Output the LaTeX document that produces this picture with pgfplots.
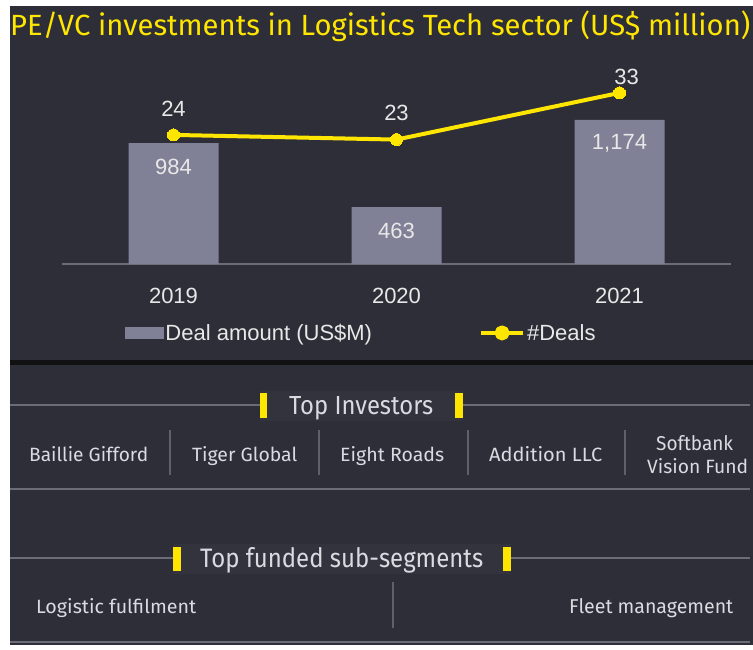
\documentclass[border=0pt]{standalone}
\usepackage{graphicx}
\usepackage{pgfplots}
\pgfplotsset{compat=1.18}
\usepackage{fontspec}
\setmainfont{Liberation Sans}
\newfontfamily\fira{Fira Sans}
\definecolor{panel}{RGB}{46,46,56}
\definecolor{bargrey}{RGB}{128,128,150}
\definecolor{eyyellow}{RGB}{255,230,0}
\definecolor{txt}{RGB}{232,232,232}
\definecolor{txtb}{RGB}{218,218,224}
\definecolor{rulec}{RGB}{108,108,120}
\definecolor{sepc}{RGB}{96,96,108}
\definecolor{band}{RGB}{51,51,61}
\definecolor{blackband}{RGB}{17,17,20}
\newcommand{\chartfont}{\fontsize{22}{26}\selectfont}
\begin{document}
\begin{tikzpicture}
\path[use as bounding box, fill=white] (0,0) rectangle (753pt,649pt);
\begin{scope}[x=1pt,y=-1pt,yshift=649pt]
\fill[panel] (10,6) rectangle (753,645);
\fill[blackband] (10,360) rectangle (753,365);
% title
\node[anchor=base west, inner sep=0pt, text=eyyellow] at (10,36) {\resizebox{740pt}{!}{\fira PE/VC investments in Logistics Tech sector (US\$ million)}};
% Top investors block
\fill[band] (260,391) rectangle (463,421);
\draw[rulec, line width=2pt] (10,405) -- (260,405);
\draw[rulec, line width=2pt] (463,405) -- (750,405);
\fill[eyyellow] (260,393) rectangle (267,418);
\fill[eyyellow] (455,393) rectangle (463,418);
\node[anchor=base west, inner sep=0pt, text=txtb] at (289,415) {\resizebox{144pt}{18pt}{\fira Top Investors}};
\foreach \sx in {170,319,468,625} {\draw[sepc, line width=1.5pt] (\sx,430) -- (\sx,475);}
\node[anchor=base west, inner sep=0pt, text=txtb] at (29,461) {\resizebox{119pt}{15pt}{\fira Baillie Gifford}};
\node[anchor=base west, inner sep=0pt, text=txtb] at (192,461) {\resizebox{105pt}{15pt}{\fira Tiger Global}};
\node[anchor=base west, inner sep=0pt, text=txtb] at (340,461) {\resizebox{104pt}{15pt}{\fira Eight Roads}};
\node[anchor=base west, inner sep=0pt, text=txtb] at (489,461) {\resizebox{113pt}{15pt}{\fira Addition LLC}};
\node[anchor=base west, inner sep=0pt, text=txtb] at (656,450) {\resizebox{77pt}{15pt}{\fira Softbank}};
\node[anchor=base west, inner sep=0pt, text=txtb] at (647,473) {\resizebox{101pt}{15pt}{\fira Vision Fund}};
\draw[rulec, line width=2pt] (10,489) -- (750,489);
% Top funded sub-segments block
\fill[band] (173,544) rectangle (511,574);
\draw[rulec, line width=2pt] (10,558) -- (173,558);
\draw[rulec, line width=2pt] (511,558) -- (750,558);
\fill[eyyellow] (173,547) rectangle (181,571);
\fill[eyyellow] (503,547) rectangle (511,571);
\node[anchor=base west, inner sep=0pt, text=txtb] at (200,567) {\resizebox{283pt}{20pt}{\fira Top funded sub-segments}};
\draw[sepc, line width=1.5pt] (393,582) -- (393,628);
\node[anchor=base west, inner sep=0pt, text=txtb] at (36,613) {\resizebox{160pt}{15pt}{\fira Logistic fulfilment}};
\node[anchor=base west, inner sep=0pt, text=txtb] at (569,613) {\resizebox{164pt}{15pt}{\fira Fleet management}};
\draw[rulec, line width=2pt] (10,642) -- (750,642);
\end{scope}

\begin{axis}[
  at={(62pt,385pt)}, anchor=south west, scale only axis,
  width=669pt, height=204pt,
  xmin=-0.5, xmax=2.5, ymin=0, ymax=1661,
  axis x line*=bottom, hide y axis,
  x axis line style={draw=rulec, line width=2pt, -},
  xtick={0,1,2}, xticklabels={2019,2020,2021},
  major tick length=0pt,
  xticklabel style={font=\chartfont, text=txt, anchor=base, yshift=-39pt},
  clip=false,
  /pgf/number format/assume math mode=true,
  /pgf/number format/1000 sep={,},
]
\addplot[ybar, bar width=90pt, fill=bargrey, draw=none,
  nodes near coords,
  every node near coord/.append style={anchor=center, yshift=-24pt, font=\chartfont, text=txt}]
  coordinates {(0,984) (1,463) (2,1174)};
\end{axis}

\begin{axis}[
  at={(62pt,385pt)}, anchor=south west, scale only axis,
  width=669pt, height=204pt,
  xmin=-0.5, xmax=2.5, ymin=-3.64, ymax=40.04,
  hide x axis, hide y axis, clip=false,
  /pgf/number format/assume math mode=true,
  legend columns=2,
  legend cell align=left,
  legend style={at={(axis description cs:0.094,-0.338)}, anchor=west, draw=none, fill=none,
    inner sep=0pt, font=\chartfont, text=txt,
    /tikz/every even column/.append style={column sep=105pt}},
]
\addlegendimage{legend image code/.code={\fill[bargrey] (0pt,-5.5pt) rectangle (38pt,5.5pt);}}
\addlegendentry{Deal amount (US\$M)}
\addplot[eyyellow, line width=4pt, line join=round, mark=*, mark size=6pt,
  mark options={fill=eyyellow, draw=eyyellow, line width=0pt},
  legend image code/.code={\draw[eyyellow, line width=4pt] (0pt,0pt) -- (42pt,0pt); \fill[eyyellow] (21pt,0pt) circle (5.5pt);},
  nodes near coords,
  visualization depends on={value \thisrow{dy} \as \dy},
  visualization depends on={value \thisrow{dx} \as \dx},
  every node near coord/.append style={anchor=center, yshift=\dy pt, xshift=\dx pt, font=\chartfont, text=txt}]
  table[x=x, y=y] {
  x y dy dx
  0 24 26 0
  1 23 27 0
  2 33 16 7
  };
\addlegendentry{\#Deals}
\end{axis}
\end{tikzpicture}
\end{document}
